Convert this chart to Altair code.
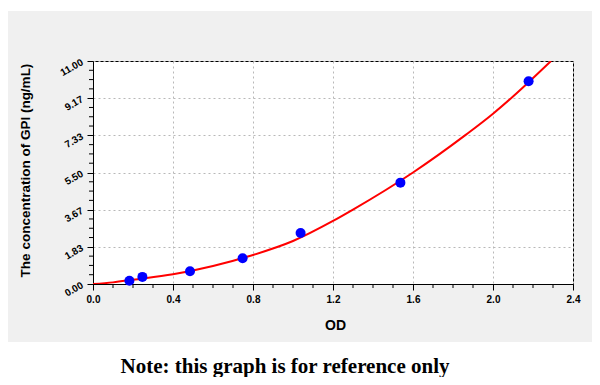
import altair as alt
import pandas as pd

# Standard points
od_points = [0.182, 0.247, 0.485, 0.748, 1.038, 1.537, 2.178]
conc_points = [0.16, 0.35, 0.63, 1.27, 2.52, 5.00, 10.00]

# Fitted curve
curve_od = [0.0, 0.1, 0.2, 0.4, 0.6, 0.8, 1.0, 1.2, 1.3, 1.6, 1.86, 2.0, 2.1, 2.29]
curve_conc = [0.0, 0.08, 0.21, 0.48, 0.89, 1.43, 2.12, 3.11, 3.67, 5.50, 7.33, 8.40, 9.25, 11.0]

# Axis ticks
x_major = [0.0, 0.4, 0.8, 1.2, 1.6, 2.0, 2.4]
x_minor = [0.1, 0.2, 0.3, 0.5, 0.6, 0.7, 0.9, 1.0, 1.1, 1.3, 1.4, 1.5,
           1.7, 1.8, 1.9, 2.1, 2.2, 2.3]
y_major = [0.0, 11 / 6, 22 / 6, 33 / 6, 44 / 6, 55 / 6, 11.0]
y_minor = [11 * i / 24 for i in range(25) if i % 4 != 0]

x_title = "OD"
y_title = "The concentration of GPI (ng/mL)"
note = "Note: this graph is for reference only"

W, H = 480, 223

pts = pd.DataFrame({"od": od_points, "conc": conc_points})
curve = pd.DataFrame({"od": curve_od, "conc": curve_conc})

x_scale = alt.Scale(domain=[0, 2.4], nice=False, zero=False)
y_scale = alt.Scale(domain=[0, 11], nice=False, zero=False)

x_axis = alt.Axis(
    values=x_major, tickCount=100, format=".1f", labelOverlap=False,
    grid=True, gridColor="#b8b8b8", gridDash=[2, 3], gridWidth=1,
    tickSize=6, tickColor="black", domainColor="black",
    labelFont="Liberation Sans", labelFontWeight="bold", labelFontSize=10,
    labelColor="black", labelPadding=4, labelFlush=False,
    title=x_title, titleFont="Liberation Sans", titleFontWeight="bold",
    titleFontSize=14, titleColor="black", titleX=242, titleY=41,
    titleBaseline="middle", titleAlign="center",
)

y_axis = alt.Axis(
    values=y_major, tickCount=100, format=".2f", labelOverlap=False,
    grid=True, gridColor="#b8b8b8", gridDash=[2, 3], gridWidth=1,
    tickSize=6, tickColor="black", domainColor="black",
    labelFont="Liberation Sans", labelFontWeight="bold", labelFontSize=10,
    labelColor="black", labelPadding=5, labelAngle=-30, labelAlign="right",
    labelBaseline="middle", labelFlush=False,
    title=y_title, titleFont="Liberation Sans", titleFontWeight="bold",
    titleFontSize=13.5, titleColor="black", titleX=-68, titleY=109,
    titleAngle=-90, titleBaseline="middle", titleAlign="center",
)

one_row = pd.DataFrame({"a": [0]})
white_bottom = alt.Chart(one_row).mark_rect(color="white").encode(
    x=alt.value(-100), x2=alt.value(520), y=alt.value(281), y2=alt.value(320),
)
white_top = alt.Chart(one_row).mark_rect(color="white").encode(
    x=alt.value(-100), x2=alt.value(520), y=alt.value(-60), y2=alt.value(-50),
)

line = alt.Chart(curve).mark_line(color="#ff0000", strokeWidth=2, clip=True,
                                  interpolate="monotone").encode(
    x=alt.X("od:Q", scale=x_scale, axis=x_axis),
    y=alt.Y("conc:Q", scale=y_scale, axis=y_axis),
)

points = alt.Chart(pts).mark_point(filled=True, color="#0000ff", size=100,
                                   opacity=1, shape="circle").encode(
    x=alt.X("od:Q", scale=x_scale),
    y=alt.Y("conc:Q", scale=y_scale),
)

x_minor_ticks = alt.Chart(pd.DataFrame({"od": x_minor})).mark_rule(
    color="black", strokeWidth=1).encode(
    x=alt.X("od:Q", scale=x_scale),
    y=alt.value(H), y2=alt.value(H + 4),
)

y_minor_ticks = alt.Chart(pd.DataFrame({"conc": y_minor})).mark_rule(
    color="black", strokeWidth=1).encode(
    y=alt.Y("conc:Q", scale=y_scale),
    x=alt.value(-4), x2=alt.value(0),
)

chart = alt.layer(white_bottom, white_top, line, points,
                  x_minor_ticks, y_minor_ticks).properties(
    width=W, height=H,
    autosize=alt.AutoSizeParams(type="none"),
    padding={"left": 85, "top": 53, "right": 19, "bottom": 93},
    background="#f0f0f0",
    title=alt.TitleParams(
        note, orient="bottom", anchor="middle",
        font="Liberation Serif", fontSize=21, fontWeight="bold",
        color="black", offset=-25, dx=-48, zindex=1,
    ),
).configure_view(stroke="black", strokeWidth=1, fill="white")

chart.save("out.html", embed_options={"renderer": "svg", "actions": False})
